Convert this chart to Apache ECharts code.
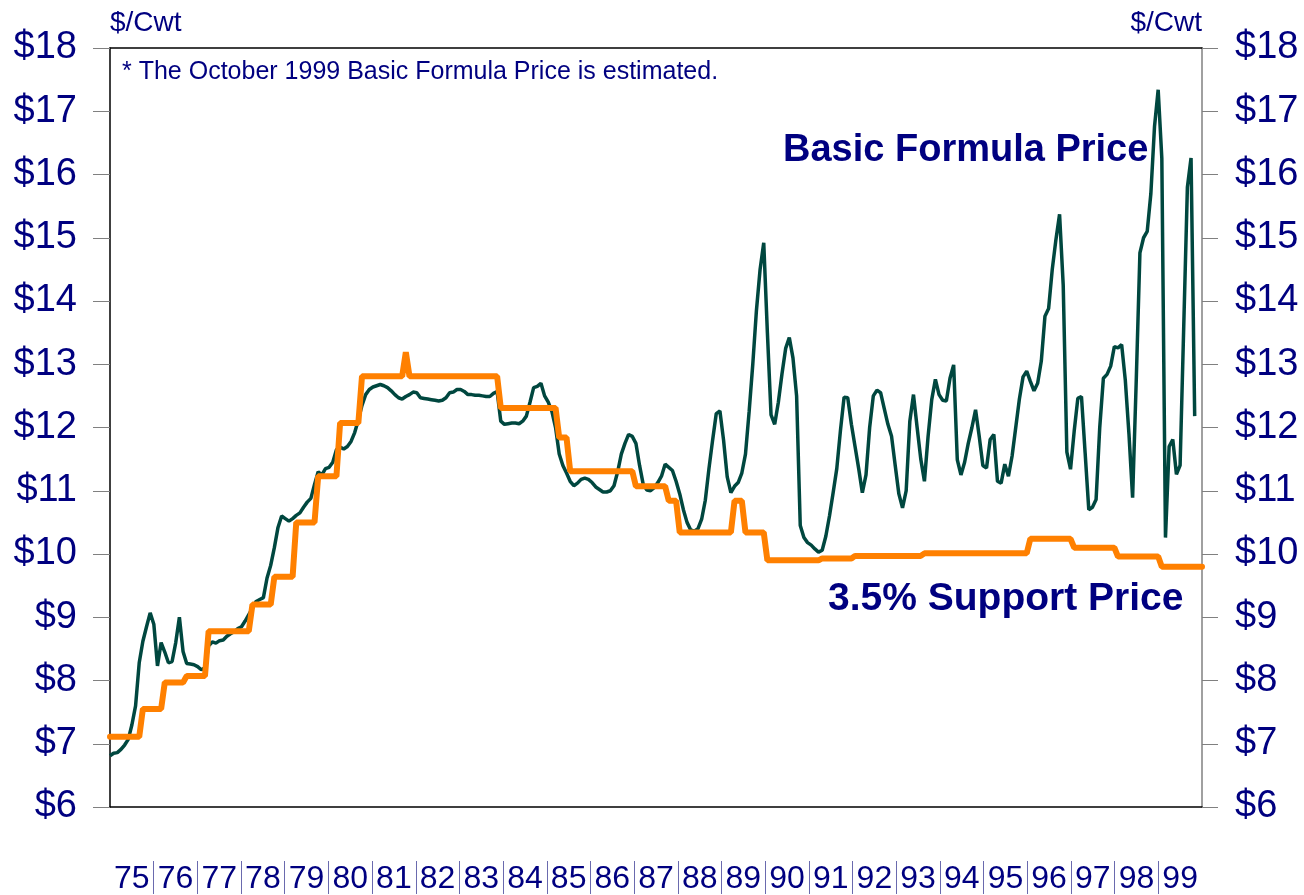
<!DOCTYPE html>
<html lang="en">
<head>
<meta charset="UTF-8">
<title>Basic Formula Price vs 3.5% Support Price</title>
<script src="https://cdn.jsdelivr.net/npm/echarts@6/dist/echarts.min.js"></script>
<style>
    html, body { margin: 0; padding: 0; background: #fff; }
    #main { width: 1304px; height: 895px; }
</style>
</head>
<body>
<div id="main"></div>
<script>
    // year labels on the bottom axis
    var years = ['75', '76', '77', '78', '79', '80', '81', '82', '83', '84', '85', '86', '87',
        '88', '89', '90', '91', '92', '93', '94', '95', '96', '97', '98', '99'];

    // Basic Formula Price, $/cwt, monthly Jan 1975 - Oct 1999 (Oct 99 estimated)
    var bfp = [
        6.81, 6.85, 6.86, 6.91, 6.98, 7.07, 7.30, 7.60, 8.28, 8.62, 8.85, 9.07,   // 75
        8.89, 8.23, 8.60, 8.45, 8.28, 8.30, 8.60, 9.00, 8.46, 8.27, 8.26, 8.25,   // 76
        8.22, 8.17, 8.20, 8.55, 8.61, 8.59, 8.63, 8.64, 8.70, 8.74, 8.77, 8.82,   // 77
        8.85, 8.94, 9.04, 9.14, 9.25, 9.28, 9.31, 9.62, 9.82, 10.10, 10.42, 10.60, // 78
        10.56, 10.52, 10.56, 10.61, 10.65, 10.74, 10.82, 10.88, 11.10, 11.30, 11.25, 11.35, // 79
        11.37, 11.45, 11.65, 11.69, 11.66, 11.70, 11.78, 11.92, 12.12, 12.35, 12.52, 12.60, // 80
        12.64, 12.66, 12.68, 12.66, 12.63, 12.58, 12.52, 12.47, 12.45, 12.49, 12.52, 12.56, // 81
        12.55, 12.47, 12.46, 12.45, 12.44, 12.43, 12.42, 12.43, 12.47, 12.55, 12.56, 12.60, // 82
        12.60, 12.57, 12.52, 12.52, 12.51, 12.51, 12.50, 12.49, 12.49, 12.54, 12.57, 12.10, // 83
        12.05, 12.06, 12.07, 12.07, 12.06, 12.10, 12.18, 12.40, 12.63, 12.65, 12.70, 12.50, // 84
        12.40, 12.25, 12.00, 11.58, 11.40, 11.28, 11.15, 11.08, 11.12, 11.18, 11.20, 11.18, // 85
        11.13, 11.06, 11.02, 10.98, 10.98, 11.00, 11.08, 11.30, 11.58, 11.75, 11.89, 11.86, // 86
        11.75, 11.40, 11.10, 11.01, 11.00, 11.05, 11.13, 11.23, 11.42, 11.37, 11.32, 11.15, // 87
        10.95, 10.70, 10.50, 10.38, 10.36, 10.40, 10.55, 10.85, 11.35, 11.80, 12.22, 12.26, // 88
        11.80, 11.22, 10.97, 11.07, 11.13, 11.28, 11.58, 12.25, 13.00, 13.85, 14.50, 14.92, // 89
        13.50, 12.20, 12.05, 12.40, 12.85, 13.25, 13.42, 13.10, 12.50, 10.45, 10.26, 10.18, // 90
        10.14, 10.08, 10.03, 10.06, 10.28, 10.60, 10.97, 11.35, 11.95, 12.48, 12.47, 12.05, // 91
        11.70, 11.35, 10.97, 11.25, 12.00, 12.50, 12.59, 12.55, 12.30, 12.05, 11.86, 11.40, // 92
        10.95, 10.73, 11.00, 12.10, 12.52, 12.00, 11.50, 11.15, 11.86, 12.44, 12.76, 12.52, // 93
        12.43, 12.42, 12.78, 12.99, 11.49, 11.25, 11.45, 11.75, 12.00, 12.28, 11.86, 11.40, // 94
        11.36, 11.81, 11.89, 11.15, 11.12, 11.42, 11.23, 11.55, 12.00, 12.45, 12.80, 12.89, // 95
        12.73, 12.58, 12.70, 13.05, 13.76, 13.88, 14.50, 14.97, 15.37, 14.25, 11.61, 11.34, // 96
        11.94, 12.46, 12.49, 11.60, 10.70, 10.74, 10.86, 12.00, 12.78, 12.84, 12.97, 13.28, // 97
        13.26, 13.31, 12.75, 11.90, 10.89, 12.75, 14.76, 15.00, 15.10, 15.70, 16.76, 17.34, // 98
        16.26, 10.26, 11.70, 11.81, 11.26, 11.40, 13.60, 15.80, 16.26, 12.18               // 99
    ];

    // 3.5% support price, $/cwt, monthly Jan 1975 - Dec 1999
    var support = [
        7.11, 7.11, 7.11, 7.11, 7.11, 7.11, 7.11, 7.11, 7.11, 7.55, 7.55, 7.55,   // 75
        7.55, 7.55, 7.55, 7.97, 7.97, 7.97, 7.97, 7.97, 7.97, 8.07, 8.07, 8.07,   // 76
        8.07, 8.07, 8.07, 8.78, 8.78, 8.78, 8.78, 8.78, 8.78, 8.78, 8.78, 8.78,   // 77
        8.78, 8.78, 8.78, 9.20, 9.20, 9.20, 9.20, 9.20, 9.20, 9.64, 9.64, 9.64,   // 78
        9.64, 9.64, 9.64, 10.50, 10.50, 10.50, 10.50, 10.50, 10.50, 11.23, 11.23, 11.23, // 79
        11.23, 11.23, 11.23, 12.07, 12.07, 12.07, 12.07, 12.07, 12.07, 12.81, 12.81, 12.81, // 80
        12.81, 12.81, 12.81, 12.81, 12.81, 12.81, 12.81, 12.81, 12.81, 13.19, 12.81, 12.81, // 81
        12.81, 12.81, 12.81, 12.81, 12.81, 12.81, 12.81, 12.81, 12.81, 12.81, 12.81, 12.81, // 82
        12.81, 12.81, 12.81, 12.81, 12.81, 12.81, 12.81, 12.81, 12.81, 12.81, 12.81, 12.31, // 83
        12.31, 12.31, 12.31, 12.31, 12.31, 12.31, 12.31, 12.31, 12.31, 12.31, 12.31, 12.31, // 84
        12.31, 12.31, 12.31, 11.84, 11.84, 11.84, 11.31, 11.31, 11.31, 11.31, 11.31, 11.31, // 85
        11.31, 11.31, 11.31, 11.31, 11.31, 11.31, 11.31, 11.31, 11.31, 11.31, 11.31, 11.31, // 86
        11.07, 11.07, 11.07, 11.07, 11.07, 11.07, 11.07, 11.07, 11.07, 10.84, 10.84, 10.84, // 87
        10.34, 10.34, 10.34, 10.34, 10.34, 10.34, 10.34, 10.34, 10.34, 10.34, 10.34, 10.34, // 88
        10.34, 10.34, 10.34, 10.84, 10.84, 10.84, 10.34, 10.34, 10.34, 10.34, 10.34, 10.34, // 89
        9.90, 9.90, 9.90, 9.90, 9.90, 9.90, 9.90, 9.90, 9.90, 9.90, 9.90, 9.90,   // 90
        9.90, 9.90, 9.90, 9.93, 9.93, 9.93, 9.93, 9.93, 9.93, 9.93, 9.93, 9.93,   // 91
        9.97, 9.97, 9.97, 9.97, 9.97, 9.97, 9.97, 9.97, 9.97, 9.97, 9.97, 9.97,   // 92
        9.97, 9.97, 9.97, 9.97, 9.97, 9.97, 9.97, 10.01, 10.01, 10.01, 10.01, 10.01, // 93
        10.01, 10.01, 10.01, 10.01, 10.01, 10.01, 10.01, 10.01, 10.01, 10.01, 10.01, 10.01, // 94
        10.01, 10.01, 10.01, 10.01, 10.01, 10.01, 10.01, 10.01, 10.01, 10.01, 10.01, 10.01, // 95
        10.24, 10.24, 10.24, 10.24, 10.24, 10.24, 10.24, 10.24, 10.24, 10.24, 10.24, 10.24, // 96
        10.10, 10.10, 10.10, 10.10, 10.10, 10.10, 10.10, 10.10, 10.10, 10.10, 10.10, 10.10, // 97
        9.96, 9.96, 9.96, 9.96, 9.96, 9.96, 9.96, 9.96, 9.96, 9.96, 9.96, 9.96,   // 98
        9.80, 9.80, 9.80, 9.80, 9.80, 9.80, 9.80, 9.80, 9.80, 9.80, 9.80, 9.80    // 99
    ];

    // month categories built from the year list
    var months = [];
    years.forEach(function (y) {
        for (var m = 1; m <= 12; m++) months.push(y + '/' + m);
    });
    // separators between years, labels in the middle of each year
    var yearTicks = [];
    var yearLabels = [];
    years.forEach(function (y, i) {
        if (i > 0) yearTicks.push(i);
        yearLabels.push(i + 0.5);
    });

    var navy = '#000080';
    var font = "'Liberation Sans', Arial, sans-serif";

    var chart = echarts.init(document.getElementById('main'));
    var option = {
        animation: false,
        backgroundColor: '#fff',
        textStyle: { fontFamily: font },
        grid: { left: 110, right: 102, top: 48, bottom: 87 },
        xAxis: [
            {
                type: 'category',
                data: months,
                boundaryGap: false,
                axisLine: { lineStyle: { color: '#000', width: 1.5 } },
                axisTick: { show: false },
                axisLabel: { show: false },
                splitLine: { show: false }
            },
            {
                type: 'value',
                min: 0,
                max: 25,
                position: 'bottom',
                offset: 54,
                axisLine: { show: false },
                splitLine: { show: false },
                axisTick: {
                    show: true,
                    length: 33,
                    customValues: yearTicks,
                    lineStyle: { color: '#6a6aae', width: 1 }
                },
                axisLabel: {
                    customValues: yearLabels,
                    formatter: function (v) { return years[Math.floor(v)]; },
                    color: navy,
                    fontSize: 32,
                    margin: 2
                }
            },
            {
                // top border of the plot
                type: 'category',
                data: months,
                position: 'top',
                boundaryGap: false,
                axisLine: { lineStyle: { color: '#000', width: 1.5 } },
                axisTick: { show: false },
                axisLabel: { show: false },
                splitLine: { show: false }
            }
        ],
        yAxis: [
            {
                type: 'value',
                position: 'left',
                min: 6,
                max: 18,
                interval: 1,
                name: '$/Cwt',
                nameLocation: 'end',
                nameGap: 11,
                nameTextStyle: { color: navy, fontSize: 28, align: 'left', verticalAlign: 'bottom' },
                axisLine: { show: true, lineStyle: { color: '#000', width: 1.5 } },
                axisTick: { show: true, length: 17, lineStyle: { color: '#808080' } },
                axisLabel: { formatter: '${value}', color: navy, fontSize: 38, margin: 33 },
                splitLine: { show: false }
            },
            {
                type: 'value',
                position: 'right',
                min: 6,
                max: 18,
                interval: 1,
                name: '$/Cwt',
                nameLocation: 'end',
                nameGap: 11,
                nameTextStyle: { color: navy, fontSize: 28, align: 'right', verticalAlign: 'bottom' },
                axisLine: { show: true, lineStyle: { color: '#808080', width: 1.5 } },
                axisTick: { show: true, length: 16, lineStyle: { color: '#808080' } },
                axisLabel: { formatter: '${value}', color: navy, fontSize: 38, margin: 33 },
                splitLine: { show: false }
            }
        ],
        series: [
            {
                name: 'Basic Formula Price',
                type: 'line',
                data: bfp,
                xAxisIndex: 0,
                yAxisIndex: 0,
                symbol: 'none',
                clip: false,
                lineStyle: { color: '#00473f', width: 3.5 },
                z: 2
            },
            {
                name: '3.5% Support Price',
                type: 'line',
                data: support,
                xAxisIndex: 0,
                yAxisIndex: 0,
                symbol: 'none',
                clip: false,
                lineStyle: { color: '#ff8000', width: 6, cap: 'round' },
                z: 3
            }
        ],
        graphic: [
            {
                type: 'text',
                left: 122,
                top: 60,
                style: { text: '* The October 1999 Basic Formula Price is estimated.', fill: navy, font: '25px ' + font }
            },
            {
                type: 'text',
                left: 783,
                top: 132,
                style: { text: 'Basic Formula Price', fill: navy, font: 'bold 38px ' + font }
            },
            {
                type: 'text',
                left: 828,
                top: 580,
                style: { text: '3.5% Support Price', fill: navy, font: 'bold 39px ' + font }
            }
        ]
    };
    chart.setOption(option);
</script>
</body>
</html>
